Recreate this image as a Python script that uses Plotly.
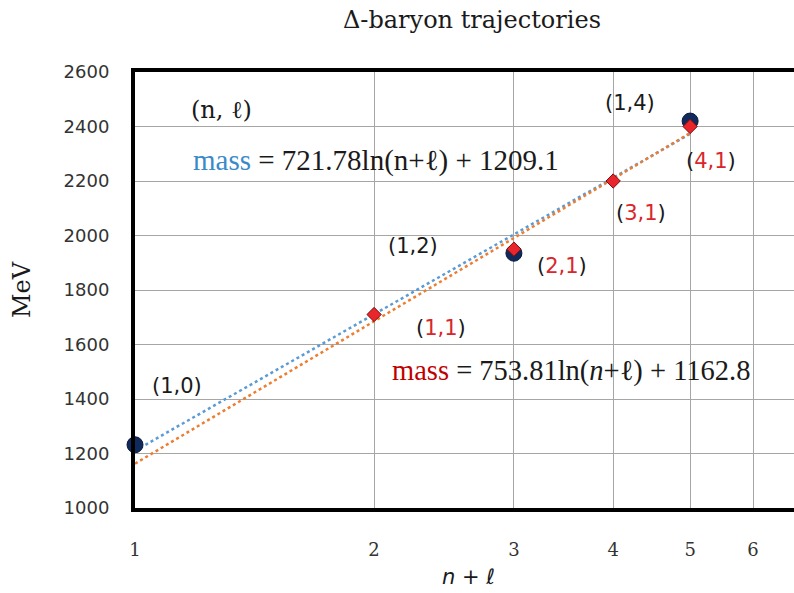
import numpy as np
import plotly.graph_objects as go

# ---- data ----
n_l_blue = [1, 3, 5]            # (1,0), (1,2), (1,4)
mass_blue = [1232, 1935, 2420]
n_l_red = [2, 3, 4, 5]          # (1,1), (2,1), (3,1), (4,1)
mass_red = [1710, 1950, 2200, 2400]
x_ticks = [1, 2, 3, 4, 5, 6]
y_ticks = [1000, 1200, 1400, 1600, 1800, 2000, 2200, 2400, 2600]

# logarithmic trend lines fitted to the data
b_slope, b_int = np.polyfit(np.log(n_l_blue), mass_blue, 1)
r_slope, r_int = np.polyfit(np.log(n_l_red), mass_red, 1)
trend_x = np.array([1.0, 5.0])

W, H = 794, 593
L, R, T, B = 135, 0, 72, 85
PW, PH = W - L - R, H - T - B


def px(x):
    return (x - L) / PW


def py(y):
    return (H - B - y) / PH


fig = go.Figure()
fig.add_trace(go.Scatter(x=trend_x, y=b_slope * np.log(trend_x) + b_int, mode="lines",
                         line=dict(color="#5B9BD5", width=2.5, dash="dot"), hoverinfo="skip"))
fig.add_trace(go.Scatter(x=trend_x, y=r_slope * np.log(trend_x) + r_int, mode="lines",
                         line=dict(color="#ED7D31", width=2.5, dash="dot"), hoverinfo="skip"))
fig.add_trace(go.Scatter(x=n_l_blue, y=mass_blue, mode="markers", cliponaxis=False,
                         marker=dict(symbol="circle", size=16, color="#112a5c",
                                     line=dict(color="#0a1a3a", width=1))))
fig.add_trace(go.Scatter(x=n_l_red, y=mass_red, mode="markers", cliponaxis=False,
                         marker=dict(symbol="diamond", size=11, color="#e8262b",
                                     line=dict(color="#7a1010", width=1))))

RED = "#d9262b"
SERIF = "DejaVu Serif"
TIMES = "Liberation Serif"
SANS = "DejaVu Sans"

ann = []


def lab(text, x, y, size=21, font=SANS, xanchor="center"):
    ann.append(dict(text=text, x=px(x), y=py(y), xref="paper", yref="paper",
                    showarrow=False, xanchor=xanchor, yanchor="middle",
                    font=dict(family=font, size=size, color="#1a1a1a")))


lab("(n, ℓ)", 221, 110, size=24, font=SERIF)
lab('<span style="color:#3a8ac8">mass</span> = 721.78ln(n+ℓ) + 1209.1', 191, 160,
    size=29, font=TIMES, xanchor="left")
lab('<span style="color:#c00000">mass</span> = 753.81ln(<i>n</i>+ℓ) + 1162.8', 390, 371,
    size=28.5, font=TIMES, xanchor="left")
lab("(1,0)", 177, 386)
lab("(1,2)", 413, 246)
lab("(1,4)", 630, 103)
for t, x, y in [("1,1", 441, 328), ("2,1", 562, 266), ("3,1", 641, 213), ("4,1", 711, 161)]:
    lab(f'(<span style="color:{RED}">{t}</span>)', x, y)

# axis titles
ann.append(dict(text="MeV", x=px(22), y=py(290), xref="paper", yref="paper", showarrow=False,
                textangle=-90, xanchor="center", yanchor="middle",
                font=dict(family=SERIF, size=24, color="#1a1a1a")))
ann.append(dict(text="<i>n</i> + <i>ℓ</i>", x=px(468), y=py(577), xref="paper", yref="paper",
                showarrow=False, xanchor="center", yanchor="middle",
                font=dict(family=SANS, size=21, color="#1a1a1a")))
ann.append(dict(text="Δ-baryon trajectories", x=px(472), y=py(20), xref="paper", yref="paper",
                showarrow=False, xanchor="center", yanchor="middle",
                font=dict(family=SERIF, size=24, color="#1a1a1a")))

fig.update_layout(
    width=W, height=H, margin=dict(l=L, r=R, t=T, b=B, pad=0),
    paper_bgcolor="white", plot_bgcolor="white", showlegend=False,
    annotations=ann,
    xaxis=dict(type="log", range=[0, np.log10(6) * PW / 618], tickvals=x_ticks,
               ticktext=[str(v) for v in x_ticks],
               showgrid=True, gridcolor="#a6a6a6", gridwidth=1,
               showline=True, linecolor="black", linewidth=4, mirror=True,
               ticks="outside", ticklen=22, tickcolor="rgba(0,0,0,0)",
               tickfont=dict(family=SERIF, size=18, color="#333333"), zeroline=False),
    yaxis=dict(range=[1000, 2600], tickvals=y_ticks, showgrid=True, gridcolor="#a6a6a6",
               gridwidth=1, showline=True, linecolor="black", linewidth=4, mirror=False,
               ticks="outside", ticklen=18, tickcolor="rgba(0,0,0,0)",
               tickfont=dict(family=SANS, size=18, color="#333333"), zeroline=False),
)

fig.write_html("out.html")
